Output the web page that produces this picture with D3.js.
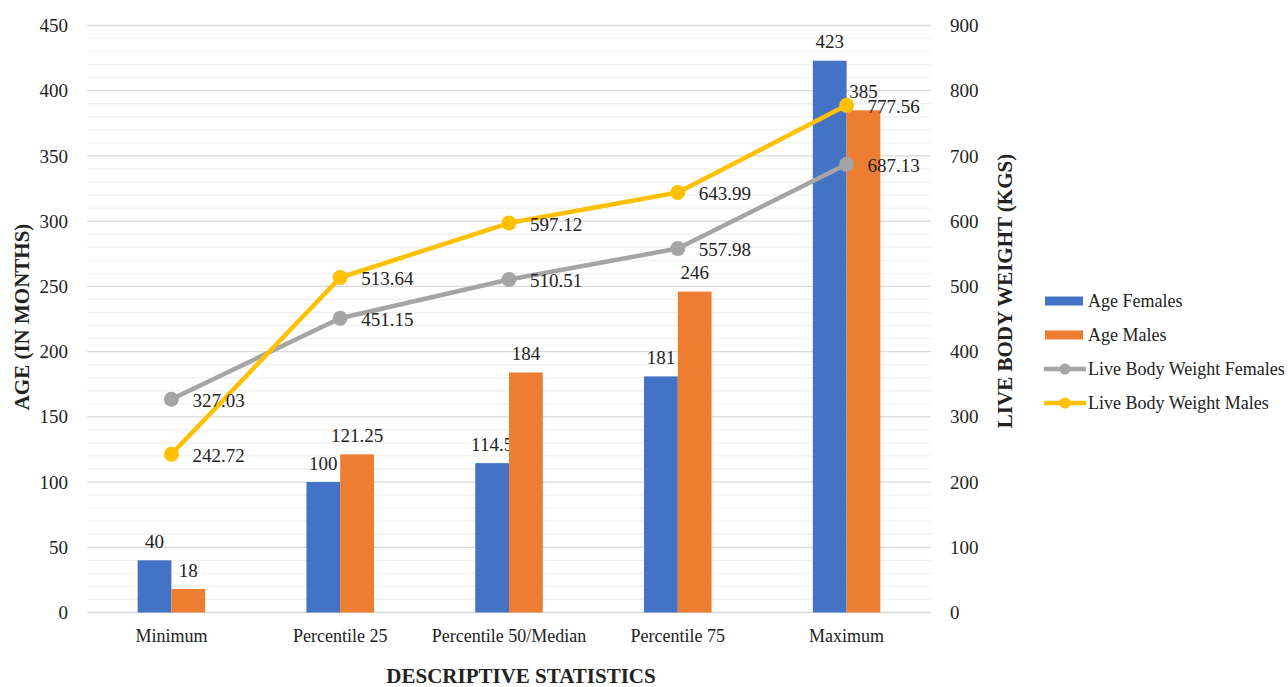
<!DOCTYPE html>
<meta charset="UTF-8">
<html>
<head>
<title>Descriptive statistics</title>
<style>
  body { margin: 0; background: #fff; }
  text { font-family: "Liberation Serif", "Times New Roman", serif; fill: #222; }
</style>
</head>
<body>
<svg width="1288" height="687"></svg>
<script src="https://d3js.org/d3.v7.min.js"></script>
<script>

// Chart data
var categories = ["Minimum", "Percentile 25", "Percentile 50/Median", "Percentile 75", "Maximum"];
var ageFemales = [40, 100, 114.5, 181, 423];
var ageMales = [18, 121.25, 184, 246, 385];
var weightFemales = [327.03, 451.15, 510.51, 557.98, 687.13];
var weightMales = [242.72, 513.64, 597.12, 643.99, 777.56];
var leftTicks = [0, 50, 100, 150, 200, 250, 300, 350, 400, 450];
var rightTicks = [0, 100, 200, 300, 400, 500, 600, 700, 800, 900];

var barSeries = [
    { name: "Age Females", values: ageFemales, color: "#4472C4" },
    { name: "Age Males", values: ageMales, color: "#ED7D31" }
];
var lineSeries = [
    { name: "Live Body Weight Females", values: weightFemales, color: "#A5A5A5" },
    { name: "Live Body Weight Males", values: weightMales, color: "#FFC000" }
];

var svg = d3.select("svg");
var plotLeft = 87, plotRight = 931, plotTop = 25.5, plotBottom = 612.5;

var x0 = d3.scaleBand().domain(categories).range([plotLeft, plotRight]).padding(0);
var bw = x0.bandwidth();
var x1 = d3.scaleBand().domain(barSeries.map(function(s) { return s.name; }))
    .range([bw * 0.3, bw * 0.7]).padding(0);
var yL = d3.scaleLinear().domain([0, 450]).range([plotBottom, plotTop]);
var yR = d3.scaleLinear().domain([0, 900]).range([plotBottom, plotTop]);

// minor + major gridlines
svg.append("g").selectAll("line")
    .data(d3.range(0, 451, 10))
    .enter().append("line")
    .attr("x1", plotLeft).attr("x2", plotRight)
    .attr("y1", function(d) { return yL(d); })
    .attr("y2", function(d) { return yL(d); })
    .attr("stroke", function(d) { return d % 50 == 0 ? "#d9d9d9" : "#f0f0f0"; })
    .attr("stroke-width", 1.3);

// left axis labels
svg.append("g").selectAll("text")
    .data(leftTicks)
    .enter().append("text")
    .attr("x", 68).attr("y", function(d) { return yL(d); })
    .attr("dy", "0.35em").attr("text-anchor", "end")
    .attr("font-size", 19)
    .text(function(d) { return d; });

// right axis labels
svg.append("g").selectAll("text")
    .data(rightTicks)
    .enter().append("text")
    .attr("x", 950).attr("y", function(d) { return yR(d); })
    .attr("dy", "0.35em").attr("text-anchor", "start")
    .attr("font-size", 19)
    .text(function(d) { return d; });

// category labels
svg.append("g").selectAll("text")
    .data(categories)
    .enter().append("text")
    .attr("x", function(d) { return x0(d) + bw / 2; })
    .attr("y", 642).attr("text-anchor", "middle")
    .attr("font-size", 18)
    .text(function(d) { return d; });

// bars
barSeries.forEach(function(s) {
    var g = svg.append("g");
    g.selectAll("rect")
        .data(s.values)
        .enter().append("rect")
        .attr("x", function(d, i) { return x0(categories[i]) + x1(s.name); })
        .attr("width", x1.bandwidth())
        .attr("y", function(d) { return yL(d); })
        .attr("height", function(d) { return plotBottom - yL(d); })
        .attr("fill", s.color);
    g.selectAll("text")
        .data(s.values)
        .enter().append("text")
        .attr("x", function(d, i) { return x0(categories[i]) + x1(s.name) + x1.bandwidth() / 2; })
        .attr("y", function(d) { return yL(d) - 19; })
        .attr("dy", "0.35em")
        .attr("text-anchor", "middle")
        .attr("font-size", 19)
        .text(function(d) { return d; });
});

// lines
var line = d3.line()
    .x(function(d, i) { return x0(categories[i]) + bw / 2; })
    .y(function(d) { return yR(d); });

lineSeries.forEach(function(s) {
    var g = svg.append("g");
    g.append("path")
        .attr("d", line(s.values))
        .attr("fill", "none")
        .attr("stroke", s.color)
        .attr("stroke-width", 4.5)
        .attr("stroke-linejoin", "round");
    g.selectAll("circle")
        .data(s.values)
        .enter().append("circle")
        .attr("cx", function(d, i) { return x0(categories[i]) + bw / 2; })
        .attr("cy", function(d) { return yR(d); })
        .attr("r", 7.5)
        .attr("fill", s.color);
});
lineSeries.forEach(function(s) {
    svg.append("g").selectAll("text")
        .data(s.values)
        .enter().append("text")
        .attr("x", function(d, i) { return x0(categories[i]) + bw / 2 + 21; })
        .attr("y", function(d) { return yR(d) + 1; })
        .attr("dy", "0.35em")
        .attr("font-size", 19)
        .text(function(d) { return d.toFixed(2); });
});

// axis titles
svg.append("text")
    .attr("transform", "translate(29,317) rotate(-90)")
    .attr("text-anchor", "middle").attr("font-size", 21).attr("font-weight", "bold")
    .text("AGE (IN MONTHS)");
svg.append("text")
    .attr("transform", "translate(1012,291) rotate(-90)")
    .attr("text-anchor", "middle").attr("font-size", 21).attr("font-weight", "bold")
    .text("LIVE BODY WEIGHT (KGS)");
svg.append("text")
    .attr("x", 521).attr("y", 683)
    .attr("text-anchor", "middle").attr("font-size", 21).attr("font-weight", "bold")
    .text("DESCRIPTIVE STATISTICS");

// legend
var legend = svg.append("g").attr("transform", "translate(1044,0)");
var rows = [301, 335, 369, 403];
barSeries.forEach(function(s, i) {
    legend.append("rect")
        .attr("x", 1).attr("y", rows[i] - 4.5)
        .attr("width", 38).attr("height", 9)
        .attr("fill", s.color);
    legend.append("text")
        .attr("x", 44).attr("y", rows[i]).attr("dy", "0.35em")
        .attr("font-size", 18).text(s.name);
});
lineSeries.forEach(function(s, i) {
    var y = rows[i + 2];
    legend.append("line")
        .attr("x1", 0).attr("x2", 42).attr("y1", y).attr("y2", y)
        .attr("stroke", s.color).attr("stroke-width", 4.5);
    legend.append("circle")
        .attr("cx", 21).attr("cy", y).attr("r", 5.5)
        .attr("fill", s.color);
    legend.append("text")
        .attr("x", 44).attr("y", y).attr("dy", "0.35em")
        .attr("font-size", 18).text(s.name);
});
</script>
</body>
</html>
